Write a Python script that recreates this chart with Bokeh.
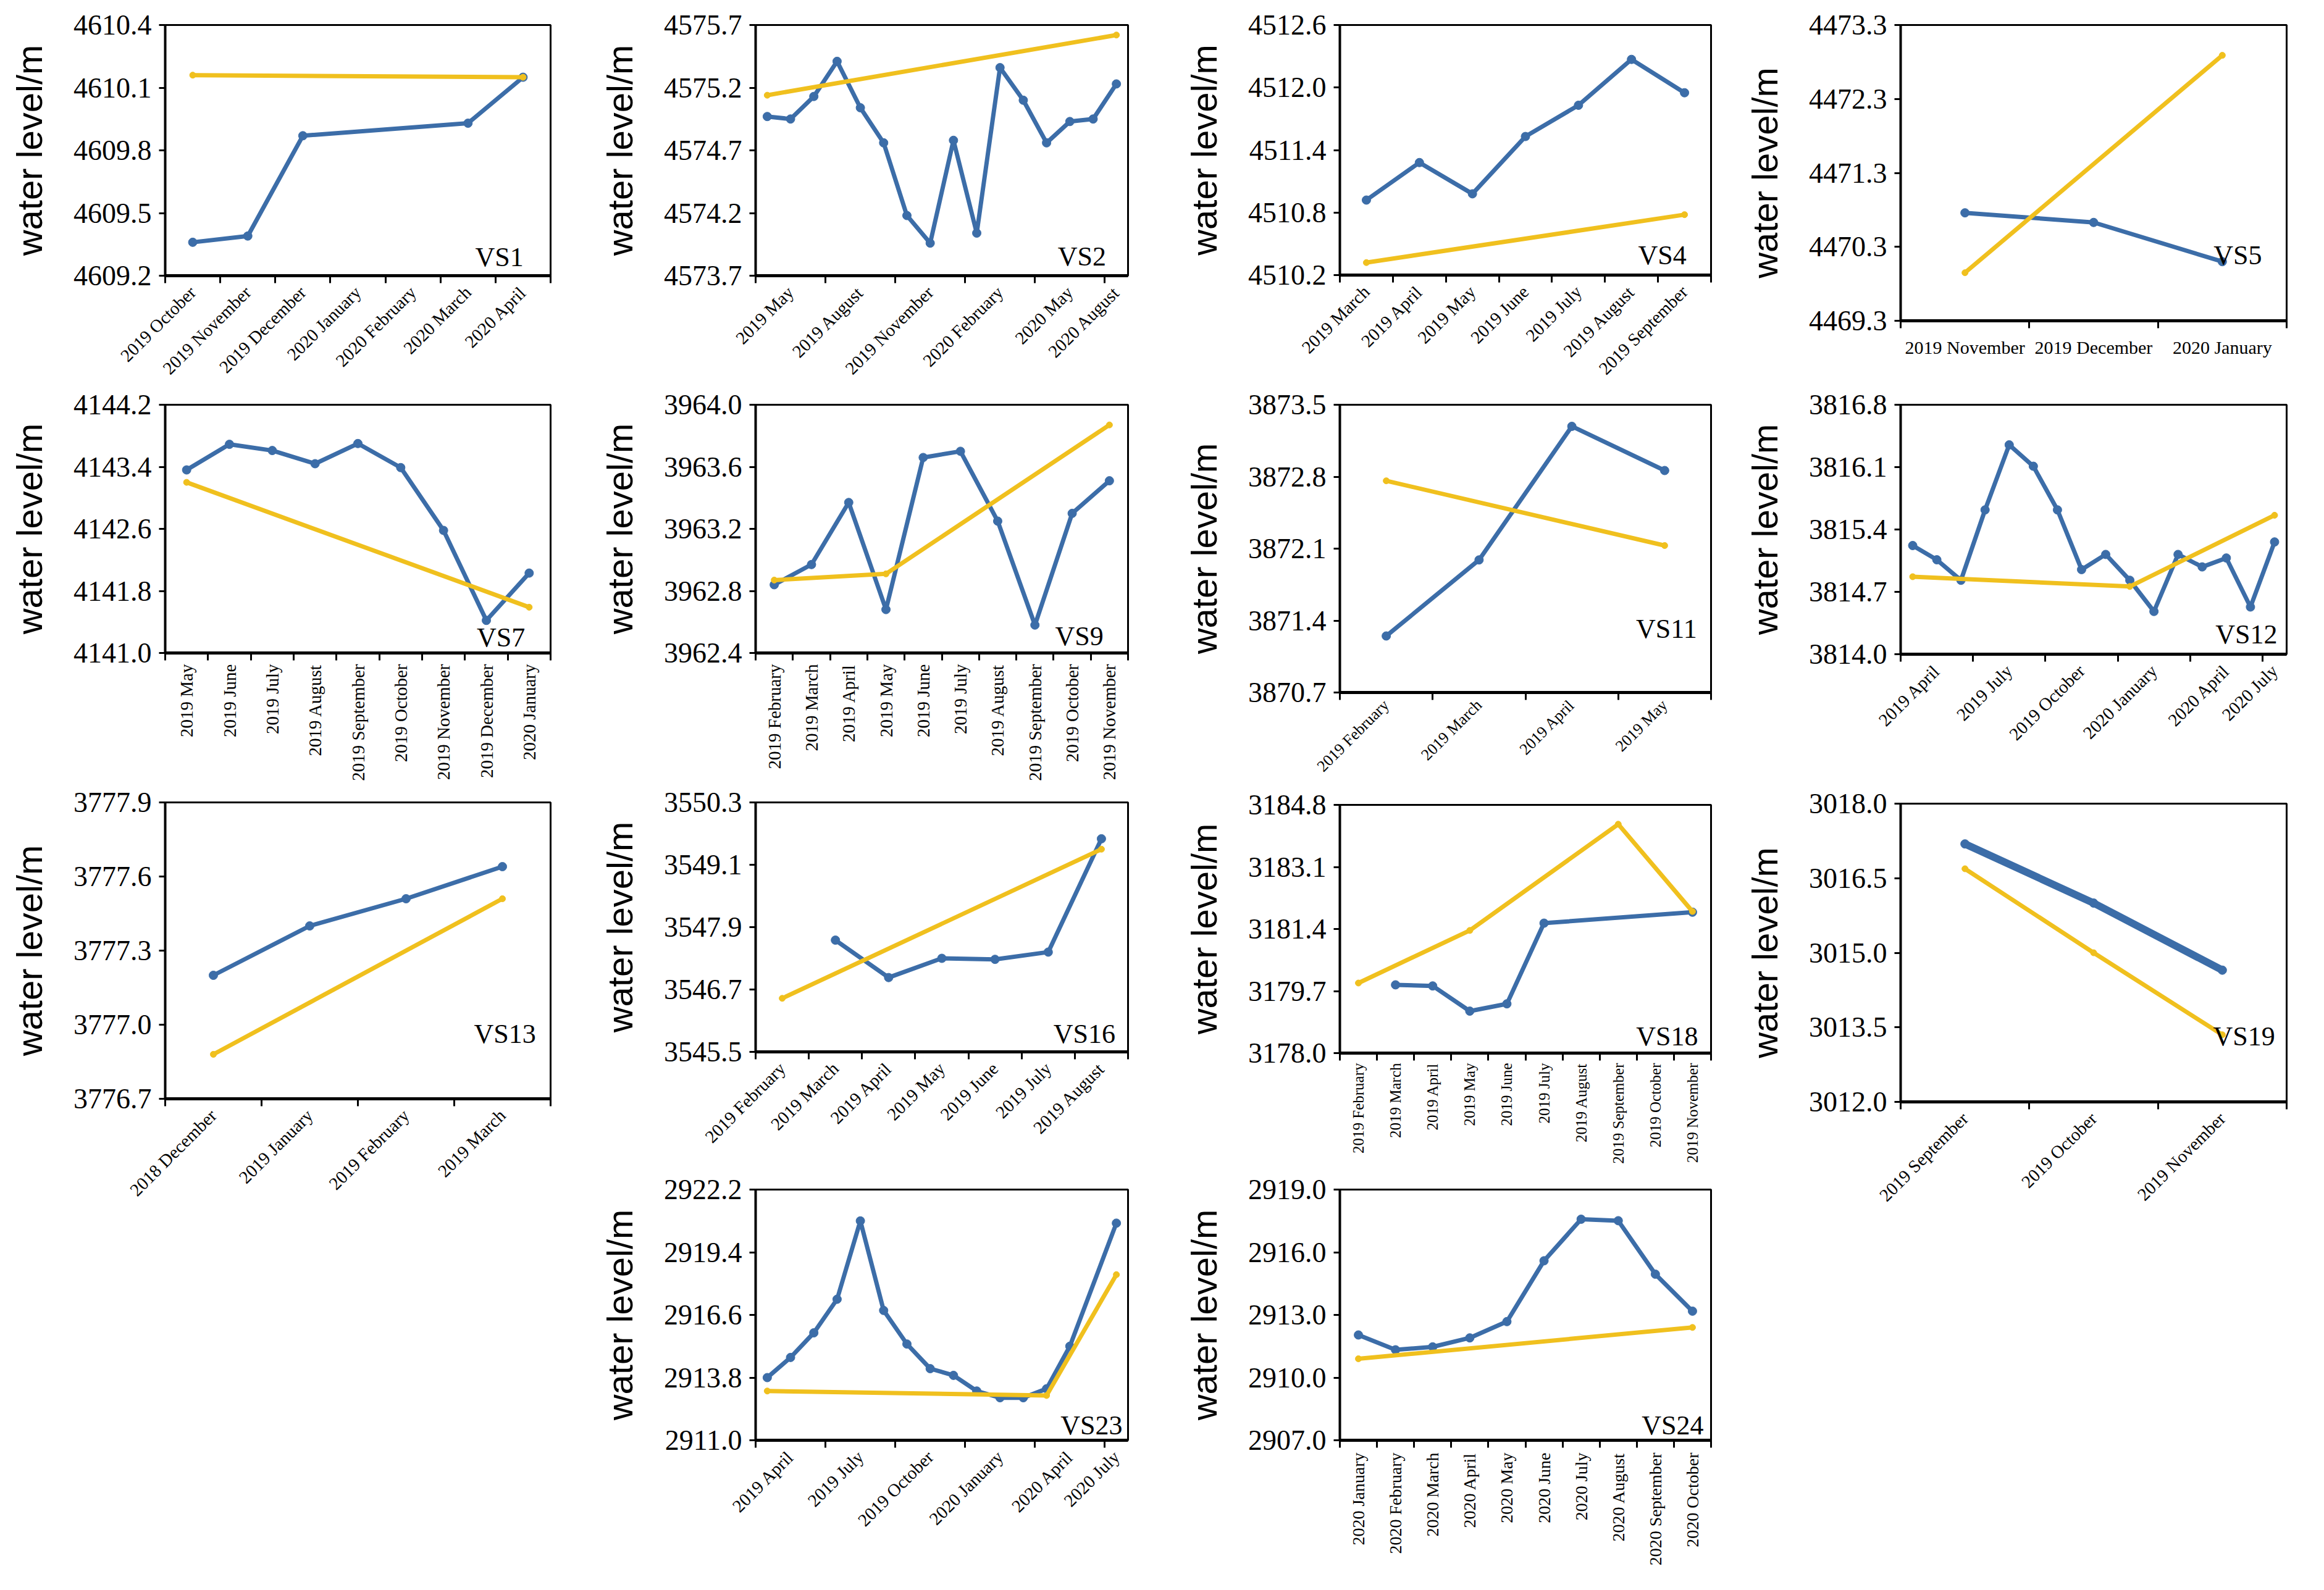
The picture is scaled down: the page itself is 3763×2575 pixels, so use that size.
import math
from bokeh.plotting import figure
from bokeh.layouts import row, column
from bokeh.models import Range1d, FixedTicker, PrintfTickFormatter, Label
from bokeh.embed import file_html
from bokeh.resources import INLINE

BLUE = "#3C6DA8"
YELLOW = "#F0C01E"

# ---------------- data ----------------
VS1_months = ["2019 October", "2019 November", "2019 December", "2020 January",
              "2020 February", "2020 March", "2020 April"]
VS1_level = [4609.36, 4609.39, 4609.87, None, None, 4609.93, 4610.15]
VS1_trend_months = ["2019 October", "2020 April"]
VS1_trend = [4610.16, 4610.15]
VS1_yticks = [4609.2, 4609.5, 4609.8, 4610.1, 4610.4]

VS2_months = ["2019 May", "2019 June", "2019 July", "2019 August", "2019 September",
              "2019 October", "2019 November", "2019 December", "2020 January",
              "2020 February", "2020 March", "2020 April", "2020 May", "2020 June",
              "2020 July", "2020 August"]
VS2_level = [4574.97, 4574.95, 4575.13, 4575.41, 4575.04, 4574.76, 4574.18, 4573.96,
             4574.78, 4574.04, 4575.36, 4575.10, 4574.76, 4574.93, 4574.95, 4575.23]
VS2_trend_months = ["2019 May", "2020 August"]
VS2_trend = [4575.14, 4575.62]
VS2_yticks = [4573.7, 4574.2, 4574.7, 4575.2, 4575.7]

VS4_months = ["2019 March", "2019 April", "2019 May", "2019 June", "2019 July",
              "2019 August", "2019 September"]
VS4_level = [4510.92, 4511.28, 4510.98, 4511.53, 4511.83, 4512.27, 4511.95]
VS4_trend_months = ["2019 March", "2019 September"]
VS4_trend = [4510.32, 4510.78]
VS4_yticks = [4510.2, 4510.8, 4511.4, 4512.0, 4512.6]

VS5_months = ["2019 November", "2019 December", "2020 January"]
VS5_level = [4470.76, 4470.63, 4470.10]
VS5_trend_months = ["2019 November", "2020 January"]
VS5_trend = [4469.95, 4472.89]
VS5_yticks = [4469.3, 4470.3, 4471.3, 4472.3, 4473.3]

VS7_months = ["2019 May", "2019 June", "2019 July", "2019 August", "2019 September",
              "2019 October", "2019 November", "2019 December", "2020 January"]
VS7_level = [4143.36, 4143.69, 4143.61, 4143.44, 4143.70, 4143.39, 4142.58, 4141.42, 4142.03]
VS7_trend_months = ["2019 May", "2020 January"]
VS7_trend = [4143.20, 4141.59]
VS7_yticks = [4141.0, 4141.8, 4142.6, 4143.4, 4144.2]

VS9_months = ["2019 February", "2019 March", "2019 April", "2019 May", "2019 June",
              "2019 July", "2019 August", "2019 September", "2019 October", "2019 November"]
VS9_level = [3962.84, 3962.97, 3963.37, 3962.68, 3963.66, 3963.70, 3963.25, 3962.58,
             3963.30, 3963.51]
VS9_trend_months = ["2019 February", "2019 May", "2019 November"]
VS9_trend = [3962.87, 3962.91, 3963.87]
VS9_yticks = [3962.4, 3962.8, 3963.2, 3963.6, 3964.0]

VS11_months = ["2019 February", "2019 March", "2019 April", "2019 May"]
VS11_level = [3871.25, 3871.99, 3873.29, 3872.86]
VS11_trend_months = ["2019 February", "2019 May"]
VS11_trend = [3872.76, 3872.13]
VS11_yticks = [3870.7, 3871.4, 3872.1, 3872.8, 3873.5]

VS12_months = ["2019 April", "2019 May", "2019 June", "2019 July", "2019 August",
               "2019 September", "2019 October", "2019 November", "2019 December",
               "2020 January", "2020 February", "2020 March", "2020 April", "2020 May",
               "2020 June", "2020 July"]
VS12_level = [3815.22, 3815.06, 3814.83, 3815.62, 3816.35, 3816.11, 3815.62, 3814.95,
              3815.12, 3814.83, 3814.48, 3815.12, 3814.98, 3815.08, 3814.53, 3815.26]
VS12_trend_months = ["2019 April", "2020 January", "2020 July"]
VS12_trend = [3814.87, 3814.76, 3815.56]
VS12_yticks = [3814.0, 3814.7, 3815.4, 3816.1, 3816.8]

VS13_months = ["2018 December", "2019 January", "2019 February", "2019 March"]
VS13_level = [3777.20, 3777.40, 3777.51, 3777.64]
VS13_trend_months = ["2018 December", "2019 March"]
VS13_trend = [3776.88, 3777.51]
VS13_yticks = [3776.7, 3777.0, 3777.3, 3777.6, 3777.9]

VS16_months = ["2019 February", "2019 March", "2019 April", "2019 May", "2019 June",
               "2019 July", "2019 August"]
VS16_level = [None, 3547.65, 3546.93, 3547.30, 3547.28, 3547.42, 3549.60]
VS16_trend_months = ["2019 February", "2019 August"]
VS16_trend = [3546.53, 3549.40]
VS16_yticks = [3545.5, 3546.7, 3547.9, 3549.1, 3550.3]

VS18_months = ["2019 February", "2019 March", "2019 April", "2019 May", "2019 June",
               "2019 July", "2019 August", "2019 September", "2019 October", "2019 November"]
VS18_level = [None, 3179.87, 3179.84, 3179.15, 3179.35, 3181.56, None, None, None, 3181.86]
VS18_trend_months = ["2019 February", "2019 May", "2019 September", "2019 November"]
VS18_trend = [3179.92, 3181.36, 3184.27, 3181.88]
VS18_yticks = [3178.0, 3179.7, 3181.4, 3183.1, 3184.8]

VS19_months = ["2019 September", "2019 October", "2019 November"]
VS19_level = [3017.19, 3016.00, 3014.65]
VS19_trend_months = ["2019 September", "2019 October", "2019 November"]
VS19_trend = [3016.69, 3015.00, 3013.35]
VS19_yticks = [3012.0, 3013.5, 3015.0, 3016.5, 3018.0]

VS23_months = ["2019 April", "2019 May", "2019 June", "2019 July", "2019 August",
               "2019 September", "2019 October", "2019 November", "2019 December",
               "2020 January", "2020 February", "2020 March", "2020 April", "2020 May",
               "2020 June", "2020 July"]
VS23_level = [2913.8, 2914.7, 2915.8, 2917.3, 2920.8, 2916.8, 2915.3, 2914.2, 2913.9,
              2913.2, 2912.9, 2912.9, 2913.3, 2915.2, None, 2920.7]
VS23_trend_months = ["2019 April", "2020 April", "2020 July"]
VS23_trend = [2913.2, 2913.0, 2918.4]
VS23_yticks = [2911.0, 2913.8, 2916.6, 2919.4, 2922.2]

VS24_months = ["2020 January", "2020 February", "2020 March", "2020 April", "2020 May",
               "2020 June", "2020 July", "2020 August", "2020 September", "2020 October"]
VS24_level = [2912.04, 2911.33, 2911.47, 2911.90, 2912.68, 2915.59, 2917.58, 2917.51,
              2914.95, 2913.18]
VS24_trend_months = ["2020 January", "2020 October"]
VS24_trend = [2910.9, 2912.4]
VS24_yticks = [2907.0, 2910.0, 2913.0, 2916.0, 2919.0]


def make_panel(name, months, level, trend_months, trend, yticks, step, orient,
               width, height, bl, br, bt, bb, fx, fy, blue_w=7, xfs=29, xstand=10):
    n = len(months)
    p = figure(width=width, height=height, output_backend="svg", toolbar_location=None,
               x_range=Range1d(-0.5, n - 0.5), y_range=Range1d(yticks[0], yticks[-1]),
               min_border_left=bl, min_border_right=br, min_border_top=bt,
               min_border_bottom=bb, background_fill_color="white",
               border_fill_color="white")
    p.xgrid.visible = False
    p.ygrid.visible = False
    p.outline_line_color = "black"
    p.outline_line_width = 3
    p.outline_line_alpha = 1.0

    # data marks
    xs = [i for i, v in enumerate(level) if v is not None]
    ys = [v for v in level if v is not None]
    p.line(xs, ys, line_color=BLUE, line_width=blue_w, line_join="round")
    p.scatter(xs, ys, size=14, color=BLUE)
    tx = [months.index(m) for m in trend_months]
    p.line(tx, trend, line_color=YELLOW, line_width=7, line_join="round")
    p.scatter(tx, trend, size=10, color=YELLOW)

    # y axis
    ya = p.yaxis[0]
    ya.ticker = FixedTicker(ticks=yticks)
    ya.formatter = PrintfTickFormatter(format="%.1f")
    ya.axis_label = "water level/m"
    ya.axis_label_text_font = "Liberation Sans"
    ya.axis_label_text_font_size = "58px"
    ya.axis_label_text_font_style = "normal"
    ya.axis_label_text_color = "black"
    ya.axis_label_standoff = 36
    ya.major_label_text_font = "Liberation Serif"
    ya.major_label_text_font_size = "46px"
    ya.major_label_text_color = "black"
    ya.major_label_standoff = 12
    ya.major_tick_out = 10
    ya.major_tick_in = 0
    ya.major_tick_line_width = 3
    ya.major_tick_line_color = "black"
    ya.minor_tick_line_color = None
    ya.axis_line_width = 4
    ya.axis_line_color = "black"

    # x axis: labels centred on each label group, tick marks on group boundaries
    major, minor, overrides = [], [], {}
    for s in range(0, n, step):
        e = min(s + step, n) - 1
        c = s + (e - s) // 2
        major.append(c)
        overrides[c] = months[s]
        minor.append(s - 0.5)
    if step == 1:
        minor.append(n - 0.5)
    xa = p.xaxis[0]
    xa.ticker = FixedTicker(ticks=major, minor_ticks=minor)
    xa.major_label_overrides = overrides
    xa.major_tick_out = 0
    xa.major_tick_in = 0
    xa.major_tick_line_color = None
    xa.minor_tick_out = 12
    xa.minor_tick_in = 0
    xa.minor_tick_line_width = 3
    xa.minor_tick_line_color = "black"
    xa.axis_line_width = 5
    xa.axis_line_color = "black"
    xa.major_label_text_font = "Liberation Serif"
    xa.major_label_text_color = "black"
    xa.major_label_text_font_size = f"{xfs}px"
    xa.major_label_standoff = xstand
    if orient == "d45":
        xa.major_label_orientation = math.pi / 4
    elif orient == "v":
        xa.major_label_orientation = math.pi / 2
    else:
        xa.major_label_orientation = "horizontal"

    lx = -0.5 + fx * n
    ly = yticks[0] + fy * (yticks[-1] - yticks[0])
    p.add_layout(Label(x=lx, y=ly, text=name, text_align="right",
                       text_baseline="alphabetic", text_font="Liberation Serif",
                       text_font_size="44px", text_color="black"))
    return p


# column 1 (page x 8 .. 940)
vs1 = make_panel("VS1", VS1_months, VS1_level, VS1_trend_months, VS1_trend, VS1_yticks,
                 1, "d45", 932, 626, 254, 34, 40, 180, 0.930, 0.075)
vs7 = make_panel("VS7", VS7_months, VS7_level, VS7_trend_months, VS7_trend, VS7_yticks,
                 1, "v", 932, 643, 256, 41, 29, 212, 0.934, 0.063, xfs=29, xstand=6)
vs13 = make_panel("VS13", VS13_months, VS13_level, VS13_trend_months, VS13_trend, VS13_yticks,
                  1, "d45", 932, 690, 267, 29, 30, 180, 0.962, 0.219)

# column 2 (940 .. 1895)
vs2 = make_panel("VS2", VS2_months, VS2_level, VS2_trend_months, VS2_trend, VS2_yticks,
                 3, "d45", 955, 626, 258, 58, 40, 180, 0.941, 0.077)
vs9 = make_panel("VS9", VS9_months, VS9_level, VS9_trend_months, VS9_trend, VS9_yticks,
                 1, "v", 955, 643, 258, 61, 29, 212, 0.934, 0.068, xfs=29, xstand=6)
vs16 = make_panel("VS16", VS16_months, VS16_level, VS16_trend_months, VS16_trend, VS16_yticks,
                  1, "d45", 955, 624, 269, 50, 30, 190, 0.966, 0.073)
vs23 = make_panel("VS23", VS23_months, VS23_level, VS23_trend_months, VS23_trend, VS23_yticks,
                  3, "d45", 955, 666, 291, 30, 33, 227, 0.985, 0.06)

# column 3 (1895 .. 2820)
vs4 = make_panel("VS4", VS4_months, VS4_level, VS4_trend_months, VS4_trend, VS4_yticks,
                 1, "d45", 925, 626, 261, 28, 40, 180, 0.934, 0.080)
vs11 = make_panel("VS11", VS11_months, VS11_level, VS11_trend_months, VS11_trend, VS11_yticks,
                  1, "d45", 925, 650, 252, 37, 29, 155, 0.962, 0.222, xfs=26, xstand=4)
vs18 = make_panel("VS18", VS18_months, VS18_level, VS18_trend_months, VS18_trend, VS18_yticks,
                  1, "v", 925, 619, 247, 42, 27, 190, 0.965, 0.068, xfs=25, xstand=4)
vs24 = make_panel("VS24", VS24_months, VS24_level, VS24_trend_months, VS24_trend, VS24_yticks,
                  1, "v", 925, 664, 282, 19, 31, 227, 0.98, 0.06, xfs=28, xstand=8)

# column 4 (2820 .. 3755)
vs5 = make_panel("VS5", VS5_months, VS5_level, VS5_trend_months, VS5_trend, VS5_yticks,
                 1, "h", 935, 626, 262, 33, 40, 107, 0.936, 0.221, xfs=30, xstand=14)
vs12 = make_panel("VS12", VS12_months, VS12_level, VS12_trend_months, VS12_trend, VS12_yticks,
                  3, "d45", 935, 645, 265, 43, 29, 212, 0.976, 0.078)
vs19 = make_panel("VS19", VS19_months, VS19_level, VS19_trend_months, VS19_trend, VS19_yticks,
                  1, "d45", 935, 718, 257, 45, 30, 205, 0.970, 0.220, blue_w=12)

layout = row(
    column(vs1, vs7, vs13, spacing=0),
    column(vs2, vs9, vs16, vs23, spacing=0),
    column(vs4, vs11, vs18, vs24, spacing=0),
    column(vs5, vs12, vs19, spacing=0),
    spacing=0,
)

open("out.html", "w").write(file_html(layout, INLINE))
